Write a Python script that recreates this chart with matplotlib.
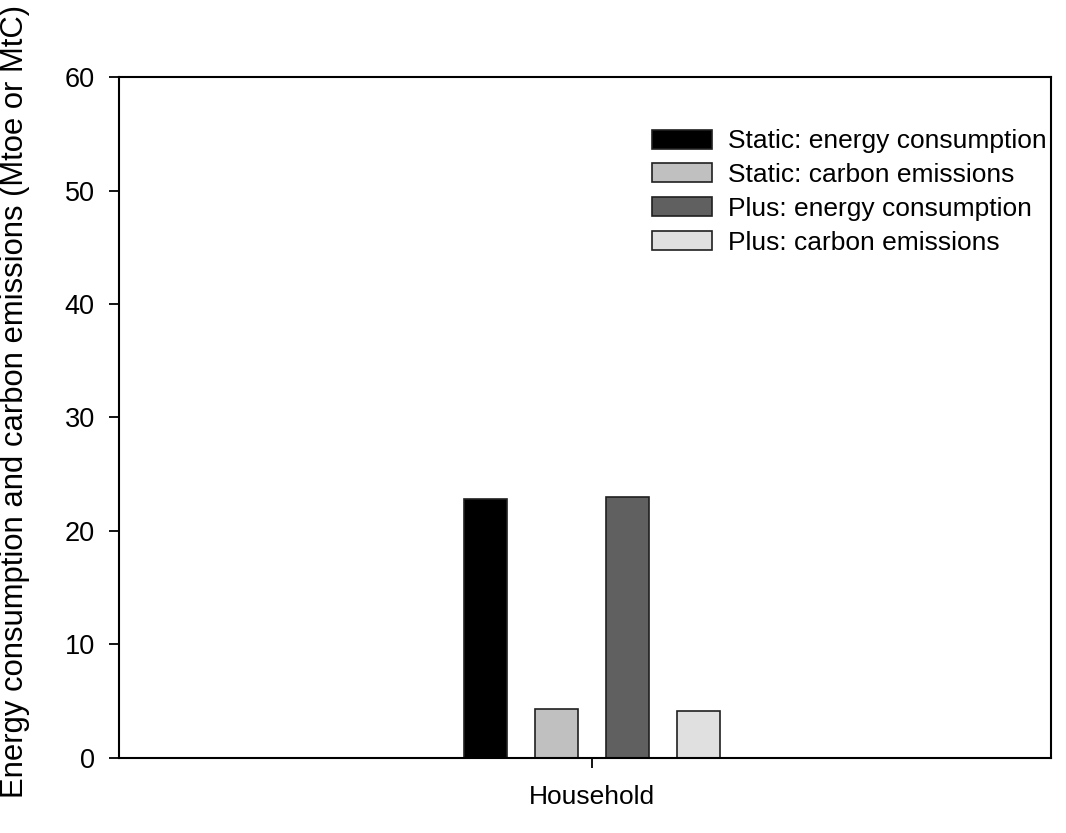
import matplotlib
matplotlib.use("Agg")
import matplotlib.pyplot as plt
import numpy as np

plt.rcParams['font.family'] = ['Liberation Sans', 'DejaVu Sans']

categories = ["Household"]
series_names = ["Static: energy consumption", "Static: carbon emissions",
                "Plus: energy consumption", "Plus: carbon emissions"]
series_values = [22.8, 4.3, 23.0, 4.1]
series_colors = ["#000000", "#c0c0c0", "#606060", "#e0e0e0"]

fig = plt.figure(figsize=(10.66, 8.33), dpi=100)
ax = fig.add_axes([0.1116, 0.0906, 0.8744, 0.8166])

offsets = np.array([-1.5, -0.5, 0.5, 1.5])
for i, name in enumerate(series_names):
    ax.bar(0 + offsets[i], series_values[i], width=0.6, color=series_colors[i],
           edgecolor="#202020", linewidth=1.2, label=name)

ax.set_xlim(-6.66, 6.46)
ax.set_ylim(0, 60)
ax.set_yticks(range(0, 61, 10))
ax.set_xticks([0])
ax.set_xticklabels(categories)
ax.tick_params(axis='both', direction='out', length=7.5, width=1.3, labelsize=19.5)
ax.tick_params(axis='y', pad=10)
ax.tick_params(axis='x', pad=12, labelsize=19)
for sp in ax.spines.values():
    sp.set_linewidth(1.5)

ax.set_ylabel("Energy consumption and carbon emissions (Mtoe or MtC)", fontsize=22.3)
ax.yaxis.set_label_coords(-0.0955, 0.524)

ax.legend(frameon=False, fontsize=19, loc='upper right', bbox_to_anchor=(1.0066, 0.939),
          handlelength=2.27, handleheight=0.72, labelspacing=0.37, handletextpad=0.6,
          borderaxespad=0.0)

fig.savefig("out.png", dpi=100)
